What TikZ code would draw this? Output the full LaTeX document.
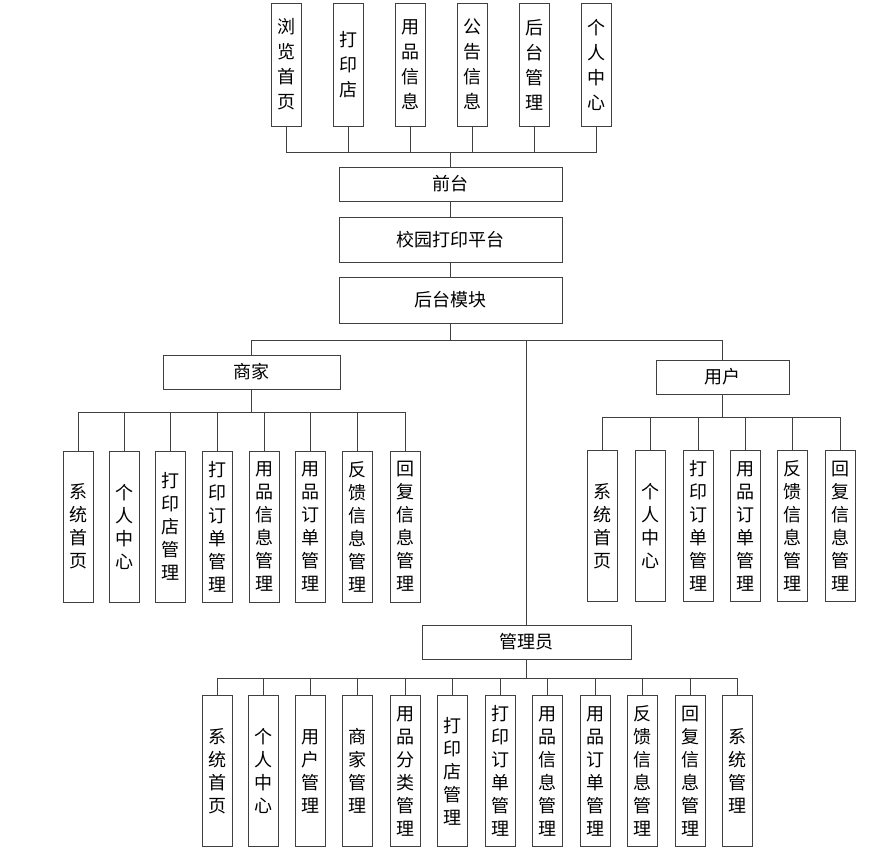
\documentclass[tikz,border=0pt]{standalone}
\usepackage{fontspec}
\newfontfamily\cjk{Noto Sans CJK SC}
\tikzset{
    box/.style={draw=black!75, line width=0.8pt, inner sep=0pt, align=center, font=\cjk\fontsize{18}{23}\selectfont},
    hbox/.style={box, minimum height=34pt},
    vbox/.style={box, minimum width=30pt, minimum height=151pt},
    tbox/.style={box, minimum width=30pt, minimum height=123pt, font=\cjk\fontsize{18}{25}\selectfont},
    link/.style={draw=black!75, line width=0.8pt}
}

\begin{document}
\begin{tikzpicture}[x=1pt, y=-1pt]
    \useasboundingbox (0,0) rectangle (878,854);

    % front pages
    \node[tbox] (t1) at (286.5,64.5) {浏\\览\\首\\页};
    \node[tbox] (t2) at (348,64.5) {打\\印\\店};
    \node[tbox] (t3) at (410,64.5) {用\\品\\信\\息};
    \node[tbox] (t4) at (472,64.5) {公\\告\\信\\息};
    \node[tbox] (t5) at (534,64.5) {后\\台\\管\\理};
    \node[tbox] (t6) at (596,64.5) {个\\人\\中\\心};

    \node[hbox, minimum width=223pt] (qt) at (450.5,184) {前台};
    \node[hbox, minimum width=223pt, minimum height=45pt] (pt) at (450.5,239.5) {校园打印平台};
    \node[hbox, minimum width=223pt, minimum height=46pt] (ht) at (450.5,300) {后台模块};

    \node[hbox, minimum width=177pt] (sj) at (251.5,372) {商家};
    \node[hbox, minimum width=133pt] (yh) at (722.5,377) {用户};
    \node[hbox, minimum width=209pt] (gl) at (526.5,642) {管理员};

    % merchant
    \node[vbox] (s1) at (78,526.5) {系\\统\\首\\页};
    \node[vbox] (s2) at (124,526.5) {个\\人\\中\\心};
    \node[vbox] (s3) at (170,526.5) {打\\印\\店\\管\\理};
    \node[vbox] (s4) at (217,526.5) {打\\印\\订\\单\\管\\理};
    \node[vbox] (s5) at (264,526.5) {用\\品\\信\\息\\管\\理};
    \node[vbox] (s6) at (310,526.5) {用\\品\\订\\单\\管\\理};
    \node[vbox] (s7) at (357.5,526.5) {反\\馈\\信\\息\\管\\理};
    \node[vbox] (s8) at (405,526.5) {回\\复\\信\\息\\管\\理};

    % user
    \node[vbox] (u1) at (602,526) {系\\统\\首\\页};
    \node[vbox] (u2) at (650,526) {个\\人\\中\\心};
    \node[vbox] (u3) at (698,526) {打\\印\\订\\单\\管\\理};
    \node[vbox] (u4) at (745,526) {用\\品\\订\\单\\管\\理};
    \node[vbox] (u5) at (792.5,526) {反\\馈\\信\\息\\管\\理};
    \node[vbox] (u6) at (840,526) {回\\复\\信\\息\\管\\理};

    % admin
    \node[vbox] (g1) at (217,771) {系\\统\\首\\页};
    \node[vbox] (g2) at (263,771) {个\\人\\中\\心};
    \node[vbox] (g3) at (310,771) {用\\户\\管\\理};
    \node[vbox] (g4) at (357.5,771) {商\\家\\管\\理};
    \node[vbox] (g5) at (405,771) {用\\品\\分\\类\\管\\理};
    \node[vbox] (g6) at (452,771) {打\\印\\店\\管\\理};
    \node[vbox] (g7) at (500,771) {打\\印\\订\\单\\管\\理};
    \node[vbox] (g8) at (547,771) {用\\品\\信\\息\\管\\理};
    \node[vbox] (g9) at (595,771) {用\\品\\订\\单\\管\\理};
    \node[vbox] (g10) at (642,771) {反\\馈\\信\\息\\管\\理};
    \node[vbox] (g11) at (690,771) {回\\复\\信\\息\\管\\理};
    \node[vbox] (g12) at (737.5,771) {系\\统\\管\\理};

    \coordinate (tb) at (450.5,152);
    \coordinate (hb) at (450.5,340);
    \coordinate (sb) at (251.5,412);
    \coordinate (ub) at (722.5,417);
    \coordinate (gb) at (526.5,678);

    \draw[link] (t1.south) |- (tb) (t2.south) |- (tb) (t3.south) |- (tb) (t4.south) |- (tb) (t5.south) |- (tb) (t6.south) |- (tb);
    \draw[link] (tb) -- (qt) (qt) -- (pt) (pt) -- (ht) (ht) -- (hb);
    \draw[link] (sj.north) |- (hb) (yh.north) |- (hb) (gl.north) |- (hb);

    \draw[link] (sj) -- (sb) (s1.north) |- (sb) (s2.north) |- (sb) (s3.north) |- (sb) (s4.north) |- (sb) (s5.north) |- (sb) (s6.north) |- (sb) (s7.north) |- (sb) (s8.north) |- (sb);
    \draw[link] (yh) -- (ub) (u1.north) |- (ub) (u2.north) |- (ub) (u3.north) |- (ub) (u4.north) |- (ub) (u5.north) |- (ub) (u6.north) |- (ub);
    \draw[link] (gl) -- (gb) (g1.north) |- (gb) (g2.north) |- (gb) (g3.north) |- (gb) (g4.north) |- (gb) (g5.north) |- (gb) (g6.north) |- (gb);
    \draw[link] (g7.north) |- (gb) (g8.north) |- (gb) (g9.north) |- (gb) (g10.north) |- (gb) (g11.north) |- (gb) (g12.north) |- (gb);
\end{tikzpicture}
\end{document}
